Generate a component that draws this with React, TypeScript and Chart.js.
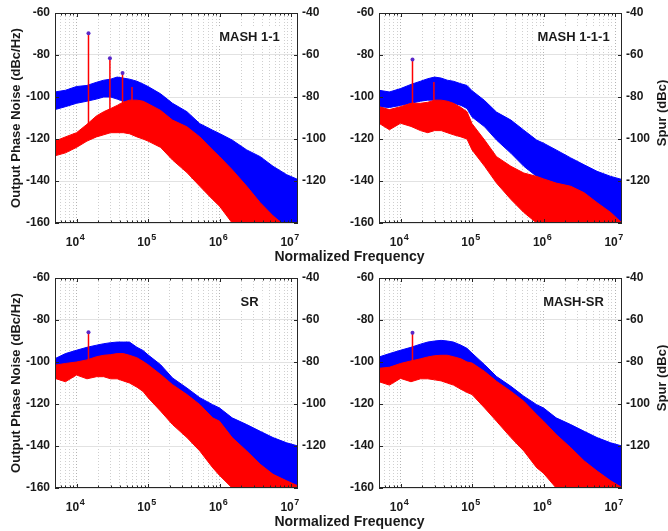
import React, { useEffect, useRef } from "react";
import { Chart, registerables } from "chart.js";
Chart.register(...registerables);

const FONT = '"Liberation Sans", Arial, Helvetica, sans-serif';
Chart.defaults.font.family = FONT;

// ---------- data ----------
const FREQ = [5e3, 7e3, 1e4, 1.4e4, 1.9e4, 2.4e4, 3e4, 3.7e4, 4.5e4, 5.5e4, 7e4, 8.5e4, 1e5, 1.5e5, 2.2e5, 3.5e5, 5.3e5, 8e5, 1e6, 1.5e6, 2.4e6, 3.7e6, 5.6e6, 8.7e6, 1.25e7];

const MASH11_BLUE_HI = [-97.6, -96.8, -95, -94.5, -93, -92, -91.5, -90.5, -91, -91.5, -92.5, -93.8, -95, -98.5, -103, -107, -112.7, -115.8, -117.4, -120.5, -125.2, -128.4, -133, -137, -139.3];
const MASH11_BLUE_LO = [-106, -104.6, -103, -102, -101, -100, -100, -101, -102, -103, -105, -108, -112, -116, -121, -126, -131, -136, -139, -144, -149, -153, -157, -162, -165];
const MASH11_RED_HI = [-121, -119, -117, -113, -109, -107, -105.5, -104, -102.5, -101.5, -101.5, -102, -103.2, -106.4, -111, -114.2, -119, -125.2, -128.4, -134.6, -142.5, -150.3, -156.6, -162, -165];
const MASH11_RED_LO = [-128, -126.6, -124, -121, -119, -118, -117, -117, -117, -117.5, -119, -120, -121, -124, -130, -136, -142.5, -148.8, -152, -160, -165, -165, -165, -165, -165];

const MASH111_BLUE_HI = [-96.8, -97.6, -96, -94, -92.5, -91.3, -90.5, -91, -92, -92.5, -93.7, -94.5, -97, -101.7, -107.2, -111, -115.8, -120.5, -122, -125.2, -129, -132.3, -135.4, -137.8, -139.3];
const MASH111_BLUE_LO = [-104.6, -105, -104, -103, -102, -101.5, -101.5, -102, -103, -103, -104, -105.5, -109.5, -114.2, -120.5, -126.8, -133, -137.8, -139.5, -143, -146, -149.5, -153, -156.5, -160];
const MASH111_RED_HI = [-104.6, -106, -104.6, -103, -103, -102.5, -101.5, -101.5, -102, -103, -105, -107, -112.7, -120.5, -128.4, -133, -136.2, -137.8, -139, -141, -142.5, -145.6, -150.3, -155, -160];
const MASH111_RED_LO = [-112.5, -115.6, -112.5, -114, -116, -117, -116, -116, -117, -118, -119, -120, -125.2, -133, -141, -148.8, -155, -160, -165, -165, -165, -165, -165, -165, -165];

const SR_BLUE_HI = [-98.4, -96, -94.4, -93, -92, -91.3, -90.8, -90.5, -90.5, -90.5, -93, -94.5, -96.6, -101.3, -107.6, -112.4, -117, -120.3, -121.9, -126.6, -129.8, -133, -136, -138.5, -140];
const SR_BLUE_LO = [-106, -104, -103, -102, -101, -100.5, -100, -100, -100.5, -101, -103, -106, -110, -115, -120, -126, -132, -138, -141, -146, -151, -155, -158, -162, -165];
const SR_RED_HI = [-101.5, -100.7, -100, -99, -97.5, -96.8, -96.5, -96, -96, -96.8, -98, -99.7, -101.3, -106, -110.8, -115.5, -120.3, -126.6, -128.2, -136, -142.4, -148.7, -153.5, -156.6, -159];
const SR_RED_LO = [-107.8, -109.4, -106.2, -108, -107, -107, -108, -108, -109, -110, -112, -114, -117, -123.4, -129.8, -136, -142.4, -150.3, -154, -160, -165, -165, -165, -165, -165];

const MASHSR_BLUE_HI = [-97.6, -96, -94.4, -93, -91.5, -90.5, -90, -89.7, -90, -90.5, -92, -93.5, -95.8, -101.3, -106.9, -111.6, -116.3, -120.3, -121.9, -126.6, -129.8, -133, -136, -138.5, -140];
const MASHSR_BLUE_LO = [-105, -104, -103, -102, -101, -100.5, -100, -100, -100.5, -101, -103, -106, -110, -115, -120, -126, -132, -138, -141, -146, -151, -155, -158, -162, -165];
const MASHSR_RED_HI = [-103, -102.5, -100.7, -99.5, -98.5, -97.6, -97, -96.8, -96.8, -97.5, -98.5, -100, -100.5, -104.5, -109.2, -114, -118.7, -125, -128.2, -134.5, -140.8, -147.1, -151.9, -156.6, -159.8];
const MASHSR_RED_LO = [-109.4, -111, -107.8, -109.4, -108, -108, -108.5, -109, -110, -111, -113, -114.5, -115.5, -121.9, -128.2, -136, -142.4, -150.3, -153, -160, -165, -165, -165, -165, -165];

// spurs (right axis, dBc)
const MASH11_SPUR_FREQ = [1.47e4, 2.93e4, 4.4e4, 5.97e4];
const MASH11_SPUR_DBC = [-49.6, -61.6, -68.6, -75.2];
const MASH11_SPUR_BASE = [-97, -90, -86, -84];
const MASH111_SPUR_FREQ = [1.47e4, 2.93e4];
const MASH111_SPUR_DBC = [-62.2, -72.9];
const MASH111_SPUR_BASE = [-85, -83];
const SR_SPUR_FREQ = [1.47e4];
const SR_SPUR_DBC = [-65.8];
const SR_SPUR_BASE = [-80];
const MASHSR_SPUR_FREQ = [1.47e4];
const MASHSR_SPUR_DBC = [-66.1];
const MASHSR_SPUR_BASE = [-82];

const X_DECADES = [4, 5, 6, 7];
const Y_TICKS = [-160, -140, -120, -100, -80, -60];
const Y2_TICKS = [-140, -120, -100, -80, -60, -40];

// ---------- style ----------
const BLUE = "#0000ff";
const RED = "#ff0000";
const MARK = "#5a28c8";
const TXT = "#1a1a1a";
const AXIS = "#262626";
const X_MIN = 5000;
const X_MAX = 1.25e7;

const XTICKS: number[] = [];
for (let d = 3; d <= 7; d++) {
  for (let m = 1; m <= 9; m++) {
    const v = m * Math.pow(10, d);
    if (v >= X_MIN && v <= X_MAX) XTICKS.push(v);
  }
}
const isDecade = (v: number) => Math.abs(Math.log10(v) - Math.round(Math.log10(v))) < 1e-9;

type Panel = {
  name: string;
  blueHi: number[]; blueLo: number[]; redHi: number[]; redLo: number[];
  spurF: number[]; spurDbc: number[]; spurBase: number[]; marked: number;
  left: number; top: number; w: number; h: number;
  yw: number; y2w: number; xh: number; leftTitle: boolean;
};

const PANELS: Panel[] = [
  { name: "MASH 1-1", blueHi: MASH11_BLUE_HI, blueLo: MASH11_BLUE_LO, redHi: MASH11_RED_HI, redLo: MASH11_RED_LO,
    spurF: MASH11_SPUR_FREQ, spurDbc: MASH11_SPUR_DBC, spurBase: MASH11_SPUR_BASE, marked: 3,
    left: 0, top: 0, w: 334, h: 265, yw: 55, y2w: 36, xh: 42, leftTitle: true },
  { name: "MASH 1-1-1", blueHi: MASH111_BLUE_HI, blueLo: MASH111_BLUE_LO, redHi: MASH111_RED_HI, redLo: MASH111_RED_LO,
    spurF: MASH111_SPUR_FREQ, spurDbc: MASH111_SPUR_DBC, spurBase: MASH111_SPUR_BASE, marked: 1,
    left: 334, top: 0, w: 334, h: 265, yw: 45, y2w: 46, xh: 42, leftTitle: false },
  { name: "SR", blueHi: SR_BLUE_HI, blueLo: SR_BLUE_LO, redHi: SR_RED_HI, redLo: SR_RED_LO,
    spurF: SR_SPUR_FREQ, spurDbc: SR_SPUR_DBC, spurBase: SR_SPUR_BASE, marked: 1,
    left: 0, top: 265, w: 334, h: 266, yw: 55, y2w: 36, xh: 43, leftTitle: true },
  { name: "MASH-SR", blueHi: MASHSR_BLUE_HI, blueLo: MASHSR_BLUE_LO, redHi: MASHSR_RED_HI, redLo: MASHSR_RED_LO,
    spurF: MASHSR_SPUR_FREQ, spurDbc: MASHSR_SPUR_DBC, spurBase: MASHSR_SPUR_BASE, marked: 1,
    left: 334, top: 265, w: 334, h: 266, yw: 45, y2w: 46, xh: 43, leftTitle: false },
];

function decorPlugin(p: Panel) {
  return {
    id: "decor",
    afterDraw(chart: any) {
      const { ctx, chartArea: a, scales } = chart;
      const xs = scales.x, ys = scales.y, y2 = scales.y2;
      ctx.save();
      ctx.strokeStyle = AXIS;
      ctx.lineWidth = 1;
      ctx.beginPath();
      for (const v of XTICKS) {
        const x = Math.round(xs.getPixelForValue(v)) + 0.5;
        const L = isDecade(v) ? 4 : 2.5;
        ctx.moveTo(x, a.bottom); ctx.lineTo(x, a.bottom - L);
        ctx.moveTo(x, a.top); ctx.lineTo(x, a.top + L);
      }
      for (const v of Y_TICKS) {
        const y = Math.round(ys.getPixelForValue(v)) + 0.5;
        ctx.moveTo(a.left, y); ctx.lineTo(a.left + 4, y);
      }
      for (const v of Y2_TICKS) {
        const y = Math.round(y2.getPixelForValue(v)) + 0.5;
        ctx.moveTo(a.right, y); ctx.lineTo(a.right - 4, y);
      }
      ctx.stroke();
      ctx.strokeRect(a.left + 0.5, a.top + 0.5, a.right - a.left - 1, a.bottom - a.top - 1);

      // decade tick labels 10^n
      ctx.fillStyle = TXT;
      ctx.textAlign = "left";
      ctx.textBaseline = "alphabetic";
      for (const d of X_DECADES) {
        const x = xs.getPixelForValue(Math.pow(10, d));
        ctx.font = `bold 12px ${FONT}`;
        const w1 = ctx.measureText("10").width;
        ctx.font = `bold 9px ${FONT}`;
        const w2 = ctx.measureText(String(d)).width;
        const start = x - (w1 + w2) / 2 - 1.5;
        const base = a.bottom + 22.5;
        ctx.font = `bold 12px ${FONT}`;
        ctx.fillText("10", start, base);
        ctx.font = `bold 9px ${FONT}`;
        ctx.fillText(String(d), start + w1 + 0.5, base - 6);
      }

      // panel label
      ctx.font = `bold 13px ${FONT}`;
      const tw = ctx.measureText(p.name).width;
      const cx = a.right - 48.5;
      const base = a.top + 27.5;
      ctx.fillStyle = "#ffffff";
      ctx.fillRect(cx - tw / 2 - 4, base - 13, tw + 8, 17);
      ctx.fillStyle = TXT;
      ctx.textAlign = "center";
      ctx.fillText(p.name, cx, base);
      ctx.restore();
    },
  };
}

function PanelChart({ p }: { p: Panel }) {
  const ref = useRef<HTMLCanvasElement>(null);
  useEffect(() => {
    if (!ref.current) return;
    const pts = (ys: number[]) => FREQ.map((f, i) => ({ x: f, y: ys[i] }));
    const band = (ys: number[], color: string, fill: any, order: number) => ({
      data: pts(ys), borderColor: color, backgroundColor: color, borderWidth: 1,
      pointRadius: 0, fill, order, yAxisID: "y", tension: 0,
    });
    const datasets: any[] = [
      band(p.blueHi, BLUE, "+1", 3),
      band(p.blueLo, BLUE, false, 3),
      band(p.redHi, RED, "+1", 2),
      band(p.redLo, RED, false, 2),
    ];
    p.spurF.forEach((f, i) => {
      datasets.push({
        data: [{ x: f, y: p.spurBase[i] }, { x: f, y: p.spurDbc[i] }],
        borderColor: RED, borderWidth: 1.5, pointRadius: 0, fill: false, order: 1, yAxisID: "y2",
      });
    });
    datasets.push({
      data: p.spurF.slice(0, p.marked).map((f, i) => ({ x: f, y: p.spurDbc[i] })),
      showLine: false, pointRadius: 2, pointBackgroundColor: MARK, pointBorderColor: MARK,
      pointBorderWidth: 0, order: 0, yAxisID: "y2",
    });

    const tickFont = { family: FONT, size: 12, weight: "bold" as const };
    const chart = new Chart(ref.current, {
      type: "line",
      data: { datasets },
      options: {
        animation: false,
        responsive: false,
        events: [],
        layout: { padding: { top: 13, left: 0, right: 0, bottom: 0 } },
        plugins: { legend: { display: false }, tooltip: { enabled: false } },
        scales: {
          x: {
            type: "logarithmic",
            min: X_MIN,
            max: X_MAX,
            afterBuildTicks: (s: any) => { s.ticks = XTICKS.map((v) => ({ value: v })); },
            afterFit: (s: any) => { s.height = p.xh; },
            ticks: { display: false, autoSkip: false },
            grid: {
              drawTicks: false,
              color: (c: any) => (c.tick && isDecade(c.tick.value) ? "#b4b4b4" : "#cfcfcf"),
            },
            border: { display: false, dash: [1, 2] },
          },
          y: {
            position: "left",
            min: -160,
            max: -60,
            afterFit: (s: any) => { s.width = p.yw; },
            ticks: { stepSize: 20, font: tickFont, color: TXT, padding: 5 },
            grid: { color: "#e2e2e2", drawTicks: false },
            border: { display: false },
            title: {
              display: p.leftTitle,
              text: "Output Phase Noise (dBc/Hz)",
              color: TXT,
              font: { family: FONT, size: 13, weight: "bold" },
              padding: { top: 9, bottom: 0 },
            },
          },
          y2: {
            position: "right",
            min: -140,
            max: -40,
            afterFit: (s: any) => { s.width = p.y2w; },
            ticks: {
              stepSize: 20, font: tickFont, color: TXT, padding: 4,
              callback: (v: any) => (Number(v) === -140 ? "" : String(v)),
            },
            grid: { drawOnChartArea: false, drawTicks: false },
            border: { display: false },
          },
        },
      } as any,
      plugins: [decorPlugin(p)],
    });
    return () => chart.destroy();
  }, [p]);
  return (
    <canvas
      ref={ref}
      width={p.w}
      height={p.h}
      style={{ position: "absolute", left: p.left, top: p.top, width: p.w, height: p.h }}
    />
  );
}

const textStyle: React.CSSProperties = {
  position: "absolute",
  fontFamily: FONT,
  fontWeight: "bold",
  color: TXT,
  whiteSpace: "nowrap",
};

export default function App() {
  return (
    <div style={{ position: "absolute", left: 0, top: 0, width: 668, height: 531, background: "#fff", overflow: "hidden" }}>
      {PANELS.map((p) => (
        <PanelChart key={p.name} p={p} />
      ))}
      {[0, 265].map((dy) => (
        <div key={"xt" + dy} style={{ ...textStyle, fontSize: 14, lineHeight: "16px", left: 349.5, top: 248.4 + dy, transform: "translateX(-50%)" }}>
          Normalized Frequency
        </div>
      ))}
      {[113, 378].map((cy) => (
        <div key={"sp" + cy} style={{ ...textStyle, fontSize: 13, lineHeight: "15px", left: 661, top: cy, transform: "translate(-50%, -50%) rotate(-90deg)" }}>
          Spur (dBc)
        </div>
      ))}
    </div>
  );
}
